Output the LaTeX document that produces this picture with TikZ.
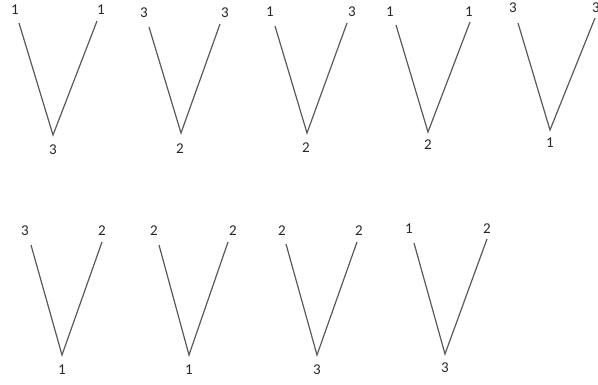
\documentclass[tikz,border=0pt]{standalone}
\usepackage{fontspec}
\setmainfont{Carlito}
\tikzset{
  lbl/.style={font=\fontsize{15}{15}\selectfont, text=black!85, inner sep=0pt, anchor=center},
  vline/.style={draw=black!65, line width=1.2pt},
}
\begin{document}
\begin{tikzpicture}[x=1pt,y=-1pt]
\useasboundingbox (0,0) rectangle (598,384);
% ---- row 1 ----
% V1
\coordinate (a1) at (19,23); \coordinate (b1) at (53,135); \coordinate (c1) at (97,21);
\node[lbl] (la1) at (15,10) {1}; \node[lbl] (lc1) at (101,10) {1}; \node[lbl] (lb1) at (53,150) {3};
\draw[vline] (a1) -- (b1) -- (c1);
% V2
\coordinate (a2) at (149,27); \coordinate (b2) at (181,133); \coordinate (c2) at (220,24);
\node[lbl] (la2) at (144,13) {3}; \node[lbl] (lc2) at (225,13) {3}; \node[lbl] (lb2) at (180,149) {2};
\draw[vline] (a2) -- (b2) -- (c2);
% V3
\coordinate (a3) at (275,26); \coordinate (b3) at (307,133); \coordinate (c3) at (347,23);
\node[lbl] (la3) at (270,12) {1}; \node[lbl] (lc3) at (352,12) {3}; \node[lbl] (lb3) at (306,148) {2};
\draw[vline] (a3) -- (b3) -- (c3);
% V4
\coordinate (a4) at (396,25); \coordinate (b4) at (428,132); \coordinate (c4) at (470,22);
\node[lbl] (la4) at (390,12) {1}; \node[lbl] (lc4) at (469,12) {1}; \node[lbl] (lb4) at (428,145) {2};
\draw[vline] (a4) -- (b4) -- (c4);
% V5
\coordinate (a5) at (518,23); \coordinate (b5) at (550,130); \coordinate (c5) at (595,18);
\node[lbl] (la5) at (513,8) {3}; \node[lbl] (lc5) at (596,8) {3}; \node[lbl] (lb5) at (550,143) {1};
\draw[vline] (a5) -- (b5) -- (c5);
% ---- row 2 ----
% V6
\coordinate (a6) at (31,245); \coordinate (b6) at (62,355); \coordinate (c6) at (102,242);
\node[lbl] (la6) at (25,231) {3}; \node[lbl] (lc6) at (102,231) {2}; \node[lbl] (lb6) at (62,370) {1};
\draw[vline] (a6) -- (b6) -- (c6);
% V7
\coordinate (a7) at (159,245); \coordinate (b7) at (189,355); \coordinate (c7) at (228,242);
\node[lbl] (la7) at (154,231) {2}; \node[lbl] (lc7) at (233,231) {2}; \node[lbl] (lb7) at (189,370) {1};
\draw[vline] (a7) -- (b7) -- (c7);
% V8
\coordinate (a8) at (286,244); \coordinate (b8) at (317,355); \coordinate (c8) at (357,242);
\node[lbl] (la8) at (282,231) {2}; \node[lbl] (lc8) at (359,231) {2}; \node[lbl] (lb8) at (317,370) {3};
\draw[vline] (a8) -- (b8) -- (c8);
% V9
\coordinate (a9) at (414,243); \coordinate (b9) at (445,354); \coordinate (c9) at (487,239);
\node[lbl] (la9) at (409,229) {1}; \node[lbl] (lc9) at (487,229) {2}; \node[lbl] (lb9) at (445,368) {3};
\draw[vline] (a9) -- (b9) -- (c9);
\end{tikzpicture}
\end{document}
